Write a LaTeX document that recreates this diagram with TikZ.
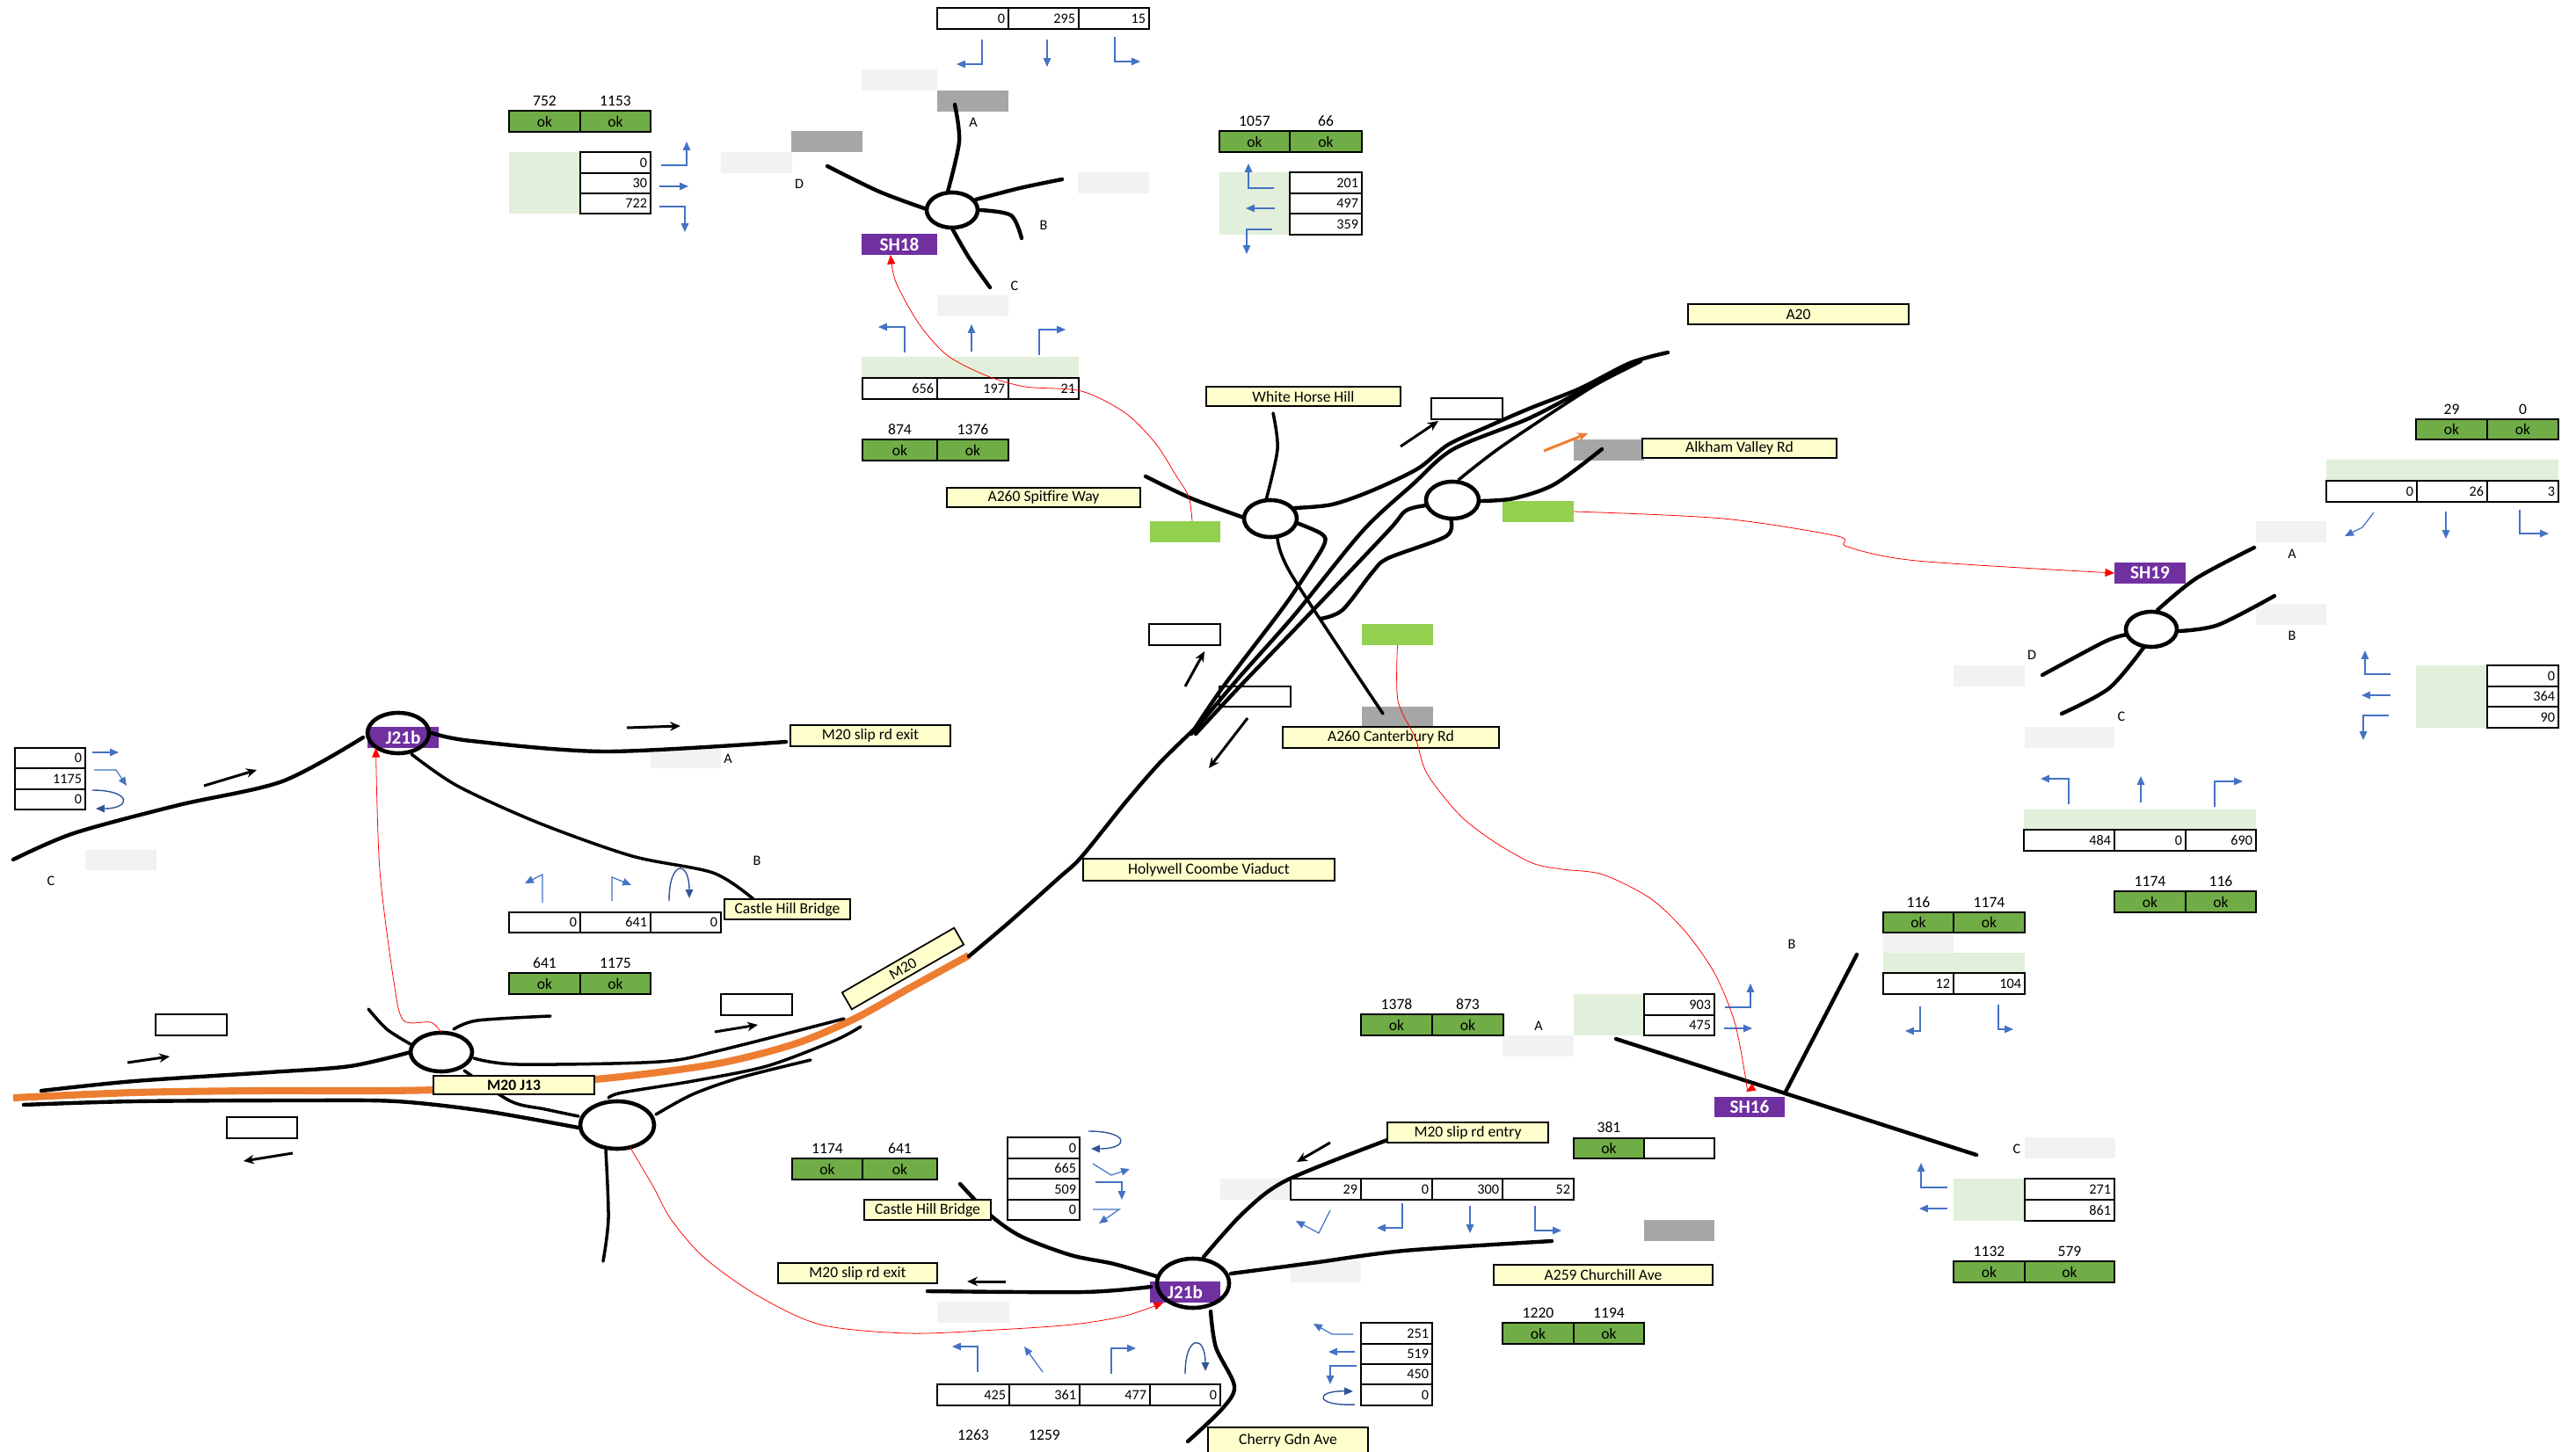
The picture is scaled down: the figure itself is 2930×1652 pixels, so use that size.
\documentclass[tikz,border=0pt]{standalone}
\usepackage{fontspec}
\setmainfont{Carlito}
\usetikzlibrary{arrows.meta, shapes.geometric}
\definecolor{ink}{HTML}{000000}
\definecolor{okgreen}{HTML}{70AD47}
\definecolor{palegreen}{HTML}{E2EFDA}
\definecolor{limegreen}{HTML}{92D050}
\definecolor{lightgrey}{HTML}{F2F2F2}
\definecolor{midgrey}{HTML}{A6A6A6}
\definecolor{sign}{HTML}{FFFFCC}
\definecolor{purple}{HTML}{7030A0}
\definecolor{m20orange}{HTML}{ED7D31}
\definecolor{turnblue}{HTML}{4472C4}
\definecolor{uturnblue}{HTML}{2F5597}
\tikzset{
  font=\fontsize{5}{6}\selectfont,
  %
  plain/.style={inner sep=0pt, outer sep=0pt, text=ink},
  okcell/.style={plain, draw=ink, line width=0.5pt, fill=okgreen},
  blankcell/.style={plain, draw=ink, line width=0.5pt, fill=white},
  numcellbox/.style={plain, draw=ink, line width=0.5pt, fill=white, align=right,
    font=\fontsize{4.6}{5.5}\selectfont},
  signbox/.style={plain, draw=ink, line width=0.5pt, fill=sign},
  tagbox/.style={plain, fill=purple, text=white, font=\fontsize{6}{7}\selectfont\bfseries},
  wash/.style={plain, fill=palegreen},
  lgrey/.style={plain, fill=lightgrey},
  mgrey/.style={plain, fill=midgrey},
  lime/.style={plain, fill=limegreen},
  armlbl/.style={plain, font=\fontsize{4.6}{5.5}\selectfont},
  countlbl/.style={plain},
  rabout/.style={plain, draw=ink, ellipse, line width=1.3pt},
  %
  road/.style={draw=ink, line width=1.25pt, line cap=round},
  roadthin/.style={draw=ink, line width=1pt, line cap=round},
  mainline/.style={draw=m20orange, line width=2.3pt},
  flowarrow/.style={draw=ink, line width=0.85pt, -{Stealth[length=3.4pt, width=3pt]}},
  turnarrow/.style={draw=turnblue, line width=0.35pt, -{Triangle[length=2.8pt, width=2.4pt]}},
  uturnarrow/.style={turnarrow, draw=uturnblue, line width=0.4pt},
  linkred/.style={draw=red, line width=0.22pt, -{Triangle[length=3pt, width=2.6pt]}},
}
\begin{document}
\begin{tikzpicture}[x=0.01cm, y=-0.01cm]
  \useasboundingbox (0,0) rectangle (2930,1652);

  \newcommand{\cellbox}[7]{% name, style, x0, y0, x1, y1, text
    \node[#2, minimum width={(#5-#3)*0.01cm}, minimum height={(#6-#4)*0.01cm}]
      (#1) at ({(#3+#5)/2},{(#4+#6)/2}) {#7};
  }
  \newcommand{\numcell}[6]{% name, x0, y0, x1, y1, value
    \pgfmathsetmacro\cellw{(#4-#2-8)*0.2845}
    \node[numcellbox, text width=\cellw pt, inner xsep=1.1pt,
      minimum height={(#5-#3)*0.01cm}] (#1) at ({(#2+#4)/2},{(#3+#5)/2}) {#6};
  }
  \newcommand{\okpair}[8]{% name, x0, xmid, x1, y0, y1, left, right
    \cellbox{#1a}{okcell}{#2}{#5}{#3}{#6}{ok}
    \cellbox{#1b}{okcell}{#3}{#5}{#4}{#6}{ok}
    \node[countlbl] (#1x) at ({(#2+#3)/2},{#5-11}) {#7};
    \node[countlbl] (#1y) at ({(#3+#4)/2},{#5-11}) {#8};
  }

  % --- shaded cells --------------------------------------------------------
  \foreach \n/\xa/\ya/\xb/\yb in {
    s1/980/79/1066/103, s2/820/173/901/197, s3/1226/196/1307/220, s4/1066/336/1147/360,
    s5/2142/1061/2222/1084, s6/2303/1294/2406/1318, s7/1709/1178/1790/1202,
    s8/1388/1341/1468/1365, s9/1468/1435/1548/1459, s10/1066/1481/1148/1505,
    s11/97/967/178/990, s12/740/852/820/874, s13/2566/593/2646/617, s14/2566/687/2646/711,
    s15/2222/757/2303/781, s16/2303/827/2405/851}
    {\cellbox{\n}{lgrey}{\xa}{\ya}{\xb}{\yb}{}}
  \foreach \n/\xa/\ya/\xb/\yb in {
    w1/579/173/660/243, w2/1387/196/1467/267, w3/980/406/1227/430, w4/1790/1131/1870/1178,
    w5/2142/1084/2303/1107, w6/2222/1341/2303/1389, w7/2646/523/2910/547,
    w8/2748/757/2829/828, w9/2302/921/2566/944}
    {\cellbox{\n}{wash}{\xa}{\ya}{\xb}{\yb}{}}
  \foreach \n/\xa/\ya/\xb/\yb in {
    g1/1066/103/1147/127, g2/900/149/981/173, g3/1790/500/1870/524,
    g4/1549/804/1630/827, g5/1870/1388/1950/1412}
    {\cellbox{\n}{mgrey}{\xa}{\ya}{\xb}{\yb}{}}
  \cellbox{limeb}{lime}{1709}{570}{1790}{594}{}
  \cellbox{limea}{lime}{1308}{593}{1388}{617}{}
  \cellbox{limec}{lime}{1549}{710}{1630}{734}{}

  % --- empty boxes ---------------------------------------------------------
  \foreach \n/\xa/\ya/\xb/\yb in {
    e1/1628/453/1709/477, e2/1307/710/1388/734, e3/1387/781/1468/804,
    e4/820/1131/901/1155, e5/177/1154/258/1178, e6/258/1271/338/1295}
    {\cellbox{\n}{blankcell}{\xa}{\ya}{\xb}{\yb}{}}

  % --- count tables --------------------------------------------------------
  \foreach \n/\xa/\xb/\v in {a/1066/1147/0, b/1147/1227/295, c/1227/1307/15}
    {\numcell{sha\n}{\xa}{9}{\xb}{33}{\v}}
  \foreach \n/\ya/\yb/\v in {a/173/197/0, b/197/220/30, c/220/243/722}
    {\numcell{shd\n}{660}{\ya}{740}{\yb}{\v}}
  \foreach \n/\ya/\yb/\v in {a/196/220/201, b/220/243/497, c/243/267/359}
    {\numcell{shb\n}{1467}{\ya}{1549}{\yb}{\v}}
  \foreach \n/\xa/\xb/\v in {a/981/1066/656, b/1066/1147/197, c/1147/1227/21}
    {\numcell{shc\n}{\xa}{430}{\xb}{454}{\v}}
  \foreach \n/\xa/\xb/\v in {a/2646/2749/0, b/2749/2829/26, c/2829/2910/3}
    {\numcell{sia\n}{\xa}{547}{\xb}{571}{\v}}
  \foreach \n/\ya/\yb/\v in {a/757/781/0, b/781/804/364, c/804/828/90}
    {\numcell{sib\n}{2829}{\ya}{2910}{\yb}{\v}}
  \foreach \n/\xa/\xb/\v in {a/2302/2405/484, b/2405/2486/0, c/2486/2566/690}
    {\numcell{sic\n}{\xa}{944}{\xb}{968}{\v}}
  \foreach \n/\ya/\yb/\v in {a/1131/1155/903, b/1155/1178/475}
    {\numcell{sfa\n}{1870}{\ya}{1950}{\yb}{\v}}
  \foreach \n/\xa/\xb/\v in {a/2142/2222/12, b/2222/2303/104}
    {\numcell{sfb\n}{\xa}{1107}{\xb}{1131}{\v}}
  \foreach \n/\ya/\yb/\v in {a/1341/1365/271, b/1365/1389/861}
    {\numcell{sfc\n}{2303}{\ya}{2405}{\yb}{\v}}
  \foreach \n/\ya/\yb/\v in {a/851/874/0, b/874/898/1175, c/898/921/0}
    {\numcell{jac\n}{17}{\ya}{97}{\yb}{\v}}
  \foreach \n/\xa/\xb/\v in {a/579/660/0, b/660/740/641, c/740/820/0}
    {\numcell{jab\n}{\xa}{1038}{\xb}{1061}{\v}}
  \foreach \n/\ya/\yb/\v in {a/1294/1318/0, b/1318/1341/665, c/1341/1365/509, d/1365/1388/0}
    {\numcell{jbw\n}{1146}{\ya}{1228}{\yb}{\v}}
  \foreach \n/\xa/\xb/\v in {a/1468/1548/29, b/1548/1629/0, c/1629/1709/300, d/1709/1790/52}
    {\numcell{jbn\n}{\xa}{1341}{\xb}{1365}{\v}}
  \foreach \n/\xa/\xb/\v in {a/1066/1148/425, b/1148/1228/361, c/1228/1308/477, d/1308/1388/0}
    {\numcell{jbs\n}{\xa}{1575}{\xb}{1599}{\v}}
  \foreach \n/\ya/\yb/\v in {a/1505/1529/251, b/1529/1552/519, c/1552/1575/450, d/1575/1599/0}
    {\numcell{jbe\n}{1548}{\ya}{1629}{\yb}{\v}}

  % --- ok pairs ------------------------------------------------------------
  \okpair{oka}{579}{660}{740}{126}{150}{752}{1153}
  \okpair{okb}{1387}{1467}{1549}{149}{173}{1057}{66}
  \okpair{okc}{981}{1066}{1147}{500}{524}{874}{1376}
  \okpair{okd}{2748}{2829}{2910}{477}{500}{29}{0}
  \okpair{oke}{2405}{2486}{2566}{1014}{1038}{1174}{116}
  \okpair{okf}{2142}{2222}{2303}{1038}{1061}{116}{1174}
  \okpair{okg}{1548}{1629}{1710}{1154}{1178}{1378}{873}
  \okpair{okh}{2222}{2303}{2405}{1435}{1459}{1132}{579}
  \okpair{oki}{579}{660}{740}{1107}{1131}{641}{1175}
  \okpair{okj}{901}{981}{1066}{1318}{1342}{1174}{641}
  \okpair{okk}{1709}{1790}{1870}{1505}{1529}{1220}{1194}
  \cellbox{okla}{okcell}{1790}{1295}{1870}{1318}{ok}
  \cellbox{oklb}{blankcell}{1870}{1295}{1950}{1318}{}
  \node[countlbl] (oklx) at (1830,1283) {381};
  \node[countlbl] (ja) at (1107,1633) {1263};
  \node[countlbl] (jb) at (1188,1633) {1259};

  % --- roundabouts ---------------------------------------------------------
  \node[rabout, minimum width=0.58cm, minimum height=0.4cm] (ra18) at (1083,239) {};
  \node[rabout, minimum width=0.58cm, minimum height=0.4cm] (ra19) at (2447,716) {};
  \node[rabout, minimum width=0.6cm, minimum height=0.42cm] (rawest) at (1445,590) {};
  \node[rabout, minimum width=0.6cm, minimum height=0.42cm] (raeast) at (1652,569) {};
  \node[rabout, minimum width=0.7cm, minimum height=0.44cm] (raone) at (502,1197) {};
  \node[rabout, minimum width=0.84cm, minimum height=0.54cm] (ratwo) at (702,1280) {};

  % --- M20 --------------------------------------------------------------
  \draw[mainline] plot[smooth] coordinates {(15,1249) (153,1243) (291,1241) (494,1240)
    (677,1228) (811,1211) (903,1188) (972,1159) (1033,1125) (1102,1087)};
  \draw[road] plot[smooth] coordinates {(1102,1088) (1147,1050) (1203,1000) (1230,975) (1280,913) (1320,867) (1360,828)};
  \draw[road] plot[smooth] coordinates {(47,1241) (153,1230) (306,1220) (398,1213) (raone.west)};
  \draw[road] plot[smooth] coordinates {(27,1257) (153,1253) (344,1252) (451,1253) (551,1264) (658,1283)};
  \draw[roadthin] plot[smooth] coordinates {(528,1218) (581,1253) (620,1262) (658,1270)};
  \draw[roadthin] plot[smooth] coordinates {(419,1148) (440,1171) (467,1188)};
  \draw[roadthin] plot[smooth] coordinates {(516,1171) (543,1161) (626,1156)};
  \draw[roadthin] plot[smooth] coordinates {(539,1204) (589,1211) (750,1208) (819,1195) (960,1159)};
  \draw[roadthin] plot[smooth] coordinates {(692,1249) (708,1243) (788,1230) (872,1213) (949,1184) (979,1168)};
  \draw[roadthin] plot[smooth] coordinates {(746,1268) (788,1245) (842,1226) (922,1206)};
  \draw[roadthin] plot[smooth] coordinates {(689,1308) (692,1386) (686,1435)};

  % --- J21b north ------------------------------------------------------------
  \cellbox{tagj}{tagbox}{418}{827}{499}{851}{J21b}
  \node[rabout, minimum width=0.7cm, minimum height=0.46cm] (rajn) at (453,834) {};
  \draw[road] plot[smooth] coordinates {(15,978) (84,948) (203,916) (321,889) (413,839)};
  \draw[road] plot[smooth] coordinates {(491,834) (536,843) (689,855) (894,844)};
  \draw[roadthin] plot[smooth] coordinates {(468,858) (520,894) (612,936) (719,974) (811,993) (857,1023)};

  % --- SH18 ------------------------------------------------------------------
  \cellbox{tagsh18}{tagbox}{980}{266}{1066}{290}{SH18}
  \draw[road] plot[smooth] coordinates {(1086,119) (1091,161) (1078,218)};
  \draw[road] plot[smooth] coordinates {(941,189) (1000,218) (1054,238)};
  \draw[road] plot[smooth] coordinates {(1208,204) (1160,214) (1110,227)};
  \draw[road] plot[smooth] coordinates {(1115,239) (1150,245) (1162,271)};
  \draw[road] plot[smooth] coordinates {(1083,260) (1102,293) (1126,327)};

  % --- A20 junction ----------------------------------------------------------
  \draw[roadthin] plot[smooth] coordinates {(1448,470) (1453,511) (1440,569)};
  \draw[road] plot[smooth] coordinates {(1303,542) (1355,567) (1415,589)};
  \draw[road] plot[smooth] coordinates {(1472,578) (1515,574) (1561,558) (1613,533) (1647,506)
    (1693,485) (1739,465) (1797,442) (1854,413) (1897,401)};
  \draw[road] plot[smooth] coordinates {(1475,595) (1504,608) (1505,622) (1475,669) (1453,700) (1390,783) (1355,835)};
  \draw[road] plot[smooth] coordinates {(1357,833) (1410,770) (1472,700) (1550,604) (1607,551) (1653,511)
    (1739,476) (1808,440) (1866,411)};
  \draw[road] plot[smooth] coordinates {(1360,835) (1413,778) (1488,700) (1579,604) (1599,581) (1622,575)};
  \draw[roadthin] plot[smooth] coordinates {(1659,546) (1708,508) (1808,442) (1866,411)};
  \draw[road] plot[smooth] coordinates {(1685,570) (1722,567) (1768,551) (1822,511)};
  \draw[road] plot[smooth] coordinates {(1650,590) (1645,610) (1579,635) (1561,651) (1527,694) (1502,704)};
  \draw[roadthin] plot[smooth] coordinates {(1453,611) (1469,654) (1573,812)};

  % --- SH19 ------------------------------------------------------------------
  \cellbox{tagsh19}{tagbox}{2405}{640}{2486}{664}{SH19}
  \draw[road] plot[smooth] coordinates {(2454,694) (2498,658) (2564,623)};
  \draw[road] plot[smooth] coordinates {(2479,718) (2523,711) (2587,678)};
  \draw[road] plot[smooth] coordinates {(2419,722) (2394,730) (2323,768)};
  \draw[road] plot[smooth] coordinates {(2438,737) (2399,783) (2345,812)};

  % --- SH16 ------------------------------------------------------------------
  \cellbox{tagsh16}{tagbox}{1950}{1248}{2030}{1271}{SH16}
  \draw[road] (1838,1182) -- (2248,1314);
  \draw[road] (2030,1244) -- (2112,1086);

  % --- J21b south ----------------------------------------------------------
  \cellbox{tagjs}{tagbox}{1308}{1458}{1388}{1482}{J21b}
  \node[rabout, minimum width=0.82cm, minimum height=0.56cm] (rajs) at (1357,1460) {};
  \draw[road] plot[smooth] coordinates {(1578,1297) (1463,1343) (1414,1380) (1369,1430)};
  \draw[road] plot[smooth] coordinates {(1400,1449) (1492,1437) (1597,1423) (1765,1412)};
  \draw[road] plot[smooth] coordinates {(1092,1347) (1127,1383) (1162,1407) (1218,1428) (1267,1438) (1315,1452)};
  \draw[road] plot[smooth] coordinates {(1055,1469) (1232,1470) (1309,1464)};
  \draw[road] plot[smooth] coordinates {(1377,1492) (1383,1533) (1404,1577) (1390,1603) (1351,1640)};

  % --- signs ---------------------------------------------------------------
  \foreach \n/\xa/\ya/\xb/\yb/\t in {
    lbla/1920/346/2171/369/A20,
    lblb/1372/440/1593/462/White Horse Hill,
    lblc/1868/499/2089/521/Alkham Valley Rd,
    lbld/1077/555/1297/577/A260 Spitfire Way,
    lble/1459/827/1705/851/A260 Canterbury Rd,
    lblf/899/825/1081/849/M20 slip rd exit,
    lblg/824/1023/967/1046/Castle Hill Bridge,
    lblh/983/1365/1127/1388/Castle Hill Bridge,
    lbli/885/1437/1066/1460/M20 slip rd exit,
    lblj/1578/1277/1761/1300/M20 slip rd entry,
    lblk/1699/1439/1948/1462/A259 Churchill Ave,
    lbll/1374/1624/1556/1654/Cherry Gdn Ave,
    lblm/1232/977/1518/1002/Holywell Coombe Viaduct}
    {\cellbox{\n}{signbox}{\xa}{\ya}{\xb}{\yb}{\t}}
  \cellbox{lbln}{signbox}{493}{1224}{676}{1245}{\textbf{M20 J13}}
  \node[signbox, rotate=30, minimum width=1.47cm, minimum height=0.22cm] (lblo) at (1027,1102) {M20};

  % --- arm letters ---------------------------------------------------------
  \foreach \n/\x/\y/\t in {
    ar1/1107/139/A, ar2/1187/256/B, ar3/1154/325/C, ar4/909/209/D,
    ar5/2607/630/A, ar6/2607/723/B, ar7/2413/815/C, ar8/2311/745/D,
    ar9/1750/1167/A, ar10/2038/1074/B, ar11/2294/1307/C,
    ar12/828/863/A, ar13/861/979/B, ar14/58/1002/C}
    {\node[armlbl] (\n) at (\x,\y) {\t};}

  % --- black flow arrows ---------------------------------------------------
  \draw[flowarrow] (1593,508) -- (1636,479);
  \draw[flowarrow] (1348,781) -- (1370,741);
  \draw[flowarrow] (1419,817) -- (1375,874);
  \draw[flowarrow] (232,894) -- (292,876);
  \draw[flowarrow] (713,828) -- (774,826);
  \draw[flowarrow] (145,1209) -- (193,1202);
  \draw[flowarrow] (813,1174) -- (862,1166);
  \draw[flowarrow] (333,1312) -- (277,1321);
  \draw[flowarrow] (1513,1300) -- (1475,1322);
  \draw[flowarrow] (1144,1458) -- (1100,1458);
  \draw[flowarrow, draw=m20orange] (1756,513) -- (1806,493);

  % --- turning arrows ------------------------------------------------------
  \foreach \p in {
    {(1117,45) -- (1117,73) -- (1088,73)}, {(1191,45) -- (1191,76)}, {(1268,42) -- (1268,70) -- (1297,70)},
    {(752,188) -- (781,188) -- (781,161)}, {(750,212) -- (783,212)}, {(750,235) -- (779,235) -- (779,264)},
    {(1449,214) -- (1420,214) -- (1420,186)}, {(1450,237) -- (1417,237)}, {(1447,261) -- (1418,261) -- (1418,289)},
    {(1029,401) -- (1029,372) -- (999,372)}, {(1105,400) -- (1105,369)}, {(1182,404) -- (1182,375) -- (1212,375)},
    {(2700,583) -- (2687,600) -- (2667,610)}, {(2782,582) -- (2782,613)}, {(2866,580) -- (2866,607) -- (2899,607)},
    {(2719,767) -- (2690,767) -- (2690,740)}, {(2719,791) -- (2686,791)}, {(2717,814) -- (2688,814) -- (2688,842)},
    {(2353,915) -- (2353,886) -- (2321,886)}, {(2435,913) -- (2435,883)}, {(2519,918) -- (2519,889) -- (2551,889)},
    {(1962,1146) -- (1991,1146) -- (1991,1119)}, {(1961,1170) -- (1993,1170)},
    {(2184,1145) -- (2184,1173) -- (2167,1173)}, {(2273,1143) -- (2273,1171) -- (2290,1171)},
    {(2215,1351) -- (2185,1351) -- (2185,1323)}, {(2215,1375) -- (2183,1375)},
    {(105,856) -- (135,856)}, {(107,876) -- (132,876) -- (144,894)},
    {(617,1027) -- (617,995) -- (597,1005)}, {(696,1025) -- (696,998) -- (718,1007)},
    {(1243,1324) -- (1264,1337) -- (1285,1330)}, {(1246,1345) -- (1276,1345) -- (1276,1365)},
    {(1243,1376) -- (1273,1376) -- (1250,1392)},
    {(1513,1377) -- (1500,1403) -- (1474,1389)}, {(1595,1369) -- (1595,1397) -- (1566,1397)},
    {(1672,1372) -- (1672,1403)}, {(1746,1372) -- (1746,1400) -- (1776,1400)},
    {(1112,1561) -- (1112,1532) -- (1083,1532)}, {(1186,1561) -- (1165,1532)},
    {(1264,1563) -- (1264,1534) -- (1292,1534)},
    {(1539,1518) -- (1515,1518) -- (1494,1506)}, {(1541,1538) -- (1511,1538)},
    {(1543,1554) -- (1513,1554) -- (1513,1575)}}
    {\draw[turnarrow] \p;}
  \draw[uturnarrow] (105,899) .. controls (150,899) and (150,920) .. (109,920);
  \draw[uturnarrow] (1238,1287) .. controls (1285,1287) and (1285,1307) .. (1241,1307);
  \draw[uturnarrow] (1541,1598) .. controls (1495,1600) and (1495,1582) .. (1539,1583);
  \draw[uturnarrow] (761,1025) .. controls (761,978) and (784,978) .. (784,1022);
  \draw[uturnarrow] (1348,1563) .. controls (1348,1518) and (1371,1518) .. (1371,1560);

  % --- red links -----------------------------------------------------------
  \draw[linkred] plot[smooth] coordinates {([xshift=0.08cm]limea.north) (1352,565) (1337,540) (1314,504) (1280,470)
    (1230,445) (1166,440) (1121,427) (1077,404) (1045,368) (1019,321) ([xshift=-0.1cm]tagsh18.south)};
  \draw[linkred] plot[smooth] coordinates {(limeb.east) (1960,590) (2090,610) (2101,622) (2180,638) (tagsh19.west)};
  \draw[linkred] plot[smooth] coordinates {(limec.south) (1590,797) (1610,840) (1623,880) (1660,927) (1700,958)
    (1743,982) (1777,989) (1823,995) (1877,1022) (1917,1060) (1950,1107) (1973,1163) (1986,1230)
    ([xshift=-0.04cm,yshift=0.06cm]tagsh16.north)};
  \draw[linkred] plot[smooth] coordinates {(raone.north) (490,1163) (459,1161) (448,1117) (432,990) ([xshift=-0.31cm]tagj.south)};
  \draw[linkred] plot[smooth] coordinates {(ratwo.-60) (743,1350) (763,1387) (800,1430) (860,1473) (933,1507)
    (1033,1517) (1133,1513) (1220,1507) (1280,1497) ([xshift=-0.25cm]tagjs.south)};
\end{tikzpicture}
\end{document}
